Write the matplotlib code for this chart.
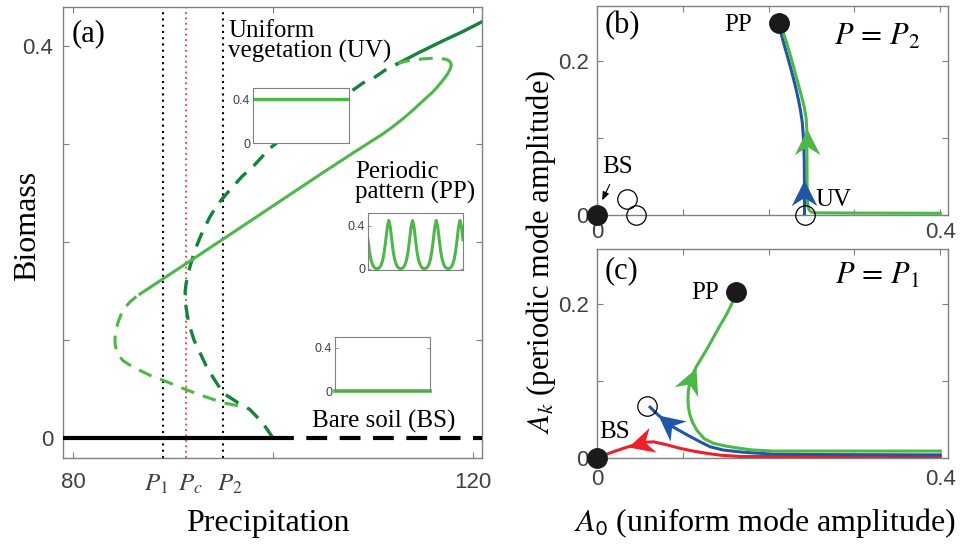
import matplotlib
matplotlib.use("Agg")
import matplotlib.pyplot as plt
import numpy as np
from matplotlib.markers import MarkerStyle
from matplotlib.path import Path
from matplotlib.transforms import Affine2D

plt.rcParams['font.family'] = ['Liberation Sans', 'DejaVu Sans']
plt.rcParams['mathtext.fontset'] = 'stix'

SERIF = ['Liberation Serif', 'DejaVu Serif']
LG = '#4db748'     # light green (periodic pattern)
DG = '#16823c'     # dark green (uniform vegetation)
BLUE = '#1f56a6'
RED = '#ec2128'
TICK_C = '#404040'
SPINE_C = '#808080'

# === Panel (a) data: bifurcation diagram ===
P1, Pc, P2 = 89.0, 91.3, 95.0

bs_stable_p = [79.0, 100.0]
bs_unstable_p = [100.0, 121.0]
bs_b = [0.0, 0.0]

# uniform vegetation: unstable branch (from bare-soil bifurcation, round the fold, up)
uv_unstable_p = [100.0, 99.0, 97.7, 96.5, 95.0, 94.0, 93.3, 92.7, 92.1, 91.7, 91.45,
                 91.3, 91.22, 91.22, 91.3, 91.45, 91.7, 92.2, 92.8, 93.7, 94.5, 95.5,
                 96.9, 98.0, 99.7, 102.0, 104.5, 107.7, 109.0, 110.0, 111.2, 112.5]
uv_unstable_b = [0.0, 0.015, 0.029, 0.036, 0.046, 0.062, 0.074, 0.087, 0.100, 0.113, 0.124,
                 0.134, 0.142, 0.150, 0.157, 0.165, 0.175, 0.192, 0.207, 0.226, 0.239, 0.251,
                 0.267, 0.277, 0.296, 0.314, 0.333, 0.353, 0.3625, 0.367, 0.3755, 0.3823]
uv_stable_p = [112.5, 114.5, 117.0, 119.0, 121.0]
uv_stable_b = [0.3823, 0.393, 0.4055, 0.415, 0.4255]

# periodic pattern branch
pp_low_p = [96.5, 95.0, 93.0, 91.4, 89.0, 87.7, 86.9, 86.3, 85.6, 85.0, 84.6, 84.35,
            84.22, 84.2, 84.3, 84.5, 84.8, 85.2, 85.7, 86.2, 86.7]
pp_low_b = [0.033, 0.036, 0.043, 0.049, 0.059, 0.064, 0.068, 0.071, 0.075, 0.079, 0.084, 0.089,
            0.095, 0.102, 0.110, 0.118, 0.126, 0.133, 0.139, 0.1433, 0.147]
pp_stable_p = [86.7, 89.0, 91.3, 95.0, 100.0, 105.0, 108.0, 110.0, 111.0, 112.0, 113.0,
               113.8, 114.6, 115.3, 115.9, 116.4, 116.85, 117.2, 117.5, 117.7, 117.8]
pp_stable_b = [0.147, 0.1625, 0.178, 0.203, 0.237, 0.271, 0.291, 0.304, 0.3105, 0.318, 0.326,
               0.333, 0.3405, 0.347, 0.3525, 0.358, 0.3635, 0.368, 0.3725, 0.3765, 0.3795]
pp_high_p = [117.8, 117.82, 117.75, 117.55, 117.2, 116.6, 116.0, 115.0, 114.0, 113.2, 112.5]
pp_high_b = [0.3795, 0.381, 0.3835, 0.3855, 0.3868, 0.3875, 0.3877, 0.387, 0.386, 0.3845, 0.3823]

# inset profiles
uv_profile = [0.4, 0.4]
bs_profile = [0.0, 0.0]
pp_period = [0.0, 0.004, 0.015, 0.04, 0.085, 0.16, 0.27, 0.39,
             0.45, 0.39, 0.27, 0.16, 0.085, 0.04, 0.015, 0.004]
pp_profile = np.tile(pp_period, 5)[10:75]

# === Panel (b) data: P = P2 ===
b_blue_x = [0.2418, 0.2417, 0.2415, 0.2410, 0.2402, 0.2392, 0.2372, 0.2348, 0.2316,
            0.2282, 0.2251, 0.2208, 0.2170, 0.2134, 0.2105]
b_blue_y = [0.0, 0.045, 0.070, 0.090, 0.106, 0.120, 0.135, 0.149, 0.165,
            0.180, 0.193, 0.210, 0.225, 0.240, 0.249]
b_green_x = [0.400, 0.300, 0.2560, 0.2504, 0.2475, 0.2458, 0.2450, 0.2447, 0.2445,
             0.2437, 0.2415, 0.2387, 0.2352, 0.2318, 0.2289, 0.2245, 0.2205, 0.2173, 0.2115]
b_green_y = [0.0022, 0.0025, 0.0028, 0.0035, 0.006, 0.011, 0.020, 0.060, 0.111,
             0.125, 0.140, 0.152, 0.167, 0.180, 0.193, 0.210, 0.225, 0.236, 0.249]
b_stable_x = [0.0, 0.2115]
b_stable_y = [0.0, 0.249]
b_unstable_x = [0.0354, 0.0451, 0.2418]
b_unstable_y = [0.0208, 0.0, 0.0]

# === Panel (c) data: P = P1 ===
c_green_x = [0.400, 0.2056, 0.180, 0.1668, 0.150, 0.1357, 0.125, 0.1163, 0.111, 0.108,
             0.1065, 0.106, 0.1065, 0.108, 0.1104, 0.1150, 0.1201, 0.128, 0.1357, 0.1435,
             0.1512, 0.157, 0.1621]
c_green_y = [0.009, 0.009, 0.0105, 0.0125, 0.0155, 0.019, 0.025, 0.036, 0.047, 0.057,
             0.066, 0.077, 0.0877, 0.097, 0.105, 0.117, 0.1265, 0.141, 0.1565, 0.172,
             0.1867, 0.200, 0.2146]
c_blue_x = [0.400, 0.250, 0.2056, 0.170, 0.1473, 0.132, 0.1201, 0.105, 0.089, 0.0715, 0.0618]
c_blue_y = [0.004, 0.0045, 0.005, 0.0075, 0.0103, 0.0145, 0.021, 0.030, 0.040, 0.0555, 0.066]
c_red_x = [0.400, 0.1668, 0.145, 0.128, 0.112, 0.0968, 0.080, 0.0657, 0.058, 0.0501,
           0.0365, 0.0307, 0.020, 0.0113, 0.0]
c_red_y = [0.0017, 0.002, 0.0035, 0.006, 0.009, 0.0125, 0.0175, 0.021, 0.0205, 0.019,
           0.0146, 0.0125, 0.0085, 0.005, 0.0]
c_stable_x = [0.0, 0.1621]
c_stable_y = [0.0, 0.2146]
c_unstable_x = [0.0583]
c_unstable_y = [0.068]

# === Figure ===
W, H = 972, 544
fig = plt.figure(figsize=(W / 100, H / 100), dpi=100)


def px_axes(x0, y0, x1, y1):
    return fig.add_axes([x0 / W, 1 - y1 / H, (x1 - x0) / W, (y1 - y0) / H])


def style(ax, size=16, xpad=6, ypad=6):
    for s in ax.spines.values():
        s.set_color(SPINE_C)
        s.set_linewidth(1.0)
    ax.tick_params(direction='in', top=True, right=True, length=4, width=0.8,
                   color=SPINE_C, labelsize=size, labelcolor=TICK_C)
    ax.tick_params(axis='x', pad=xpad)
    ax.tick_params(axis='y', pad=ypad)


# swept-back arrowhead, tip at the origin, pointing along +x
HEAD = Path([(0, 0), (-1, 0.5), (-0.68, 0), (-1, -0.5), (0, 0)],
            [Path.MOVETO, Path.LINETO, Path.LINETO, Path.LINETO, Path.CLOSEPOLY])


def arrow(ax, xs, ys, i, color):
    # arrowhead at point i+1, oriented from point i to point i+1 (screen space)
    p0 = ax.transData.transform((xs[i], ys[i]))
    p1 = ax.transData.transform((xs[i + 1], ys[i + 1]))
    ang = np.degrees(np.arctan2(p1[1] - p0[1], p1[0] - p0[0]))
    m = MarkerStyle(HEAD, transform=Affine2D().rotate_deg(ang))
    ax.plot([xs[i + 1]], [ys[i + 1]], marker=m, ms=37, color=color, mec='none',
            ls='none', zorder=4, clip_on=False)


# --- (a) ---
axA = px_axes(63, 7, 482, 458)
style(axA, xpad=10, ypad=7)
axA.set_xlim(79, 120.9)
axA.set_ylim(-0.0204, 0.44)
axA.set_xticks([80, 100, 120])
axA.set_xticklabels(['80', '', '120'])
axA.set_yticks([0, 0.1, 0.2, 0.3, 0.4])
axA.set_yticklabels(['0', '', '', '', '0.4'])

axA.axvline(P1, color='k', ls=(0, (1, 2)), lw=1.5)
axA.axvline(P2, color='k', ls=(0, (1, 2)), lw=1.5)
axA.axvline(Pc, color='#ff3333', ls=(0, (1, 2)), lw=1.3)

axA.plot(bs_stable_p, bs_b, color='k', lw=3, solid_capstyle='butt', zorder=3)
axA.plot(bs_unstable_p, bs_b, color='k', lw=3, dashes=(5, 3), zorder=3)
axA.plot(uv_unstable_p, uv_unstable_b, color=DG, lw=2.4, dashes=(4.5, 3))
axA.plot(uv_stable_p, uv_stable_b, color=DG, lw=2.4)
axA.plot(pp_low_p, pp_low_b, color=LG, lw=2.2, dashes=(4.5, 3))
axA.plot(pp_stable_p, pp_stable_b, color=LG, lw=2.2)
axA.plot(pp_high_p, pp_high_b, color=LG, lw=2.2, dashes=(4.5, 3))

for x, lab in [(88.3, r'$P_\mathit{1}$'), (91.7, r'$P_c$'), (95.7, r'$P_\mathit{2}$')]:
    axA.text(x, -0.035, lab, ha='center', va='top', size=18, color=TICK_C)

axA.text(79.9, 0.413, '(a)', family=SERIF, size=22, va='center', ha='left')
axA.text(95.5, 0.405, 'Uniform\nvegetation (UV)', family=SERIF, size=18,
         va='center', ha='left', linespacing=0.85)
axA.text(108.2, 0.261, 'Periodic\npattern (PP)', family=SERIF, size=18,
         va='center', ha='left', linespacing=0.85)
axA.text(103.9, 0.0173, 'Bare soil (BS)', family=SERIF, size=18, va='center', ha='left')


def inset(x0, y0, x1, y1, ylim):
    ax = px_axes(x0, y0, x1, y1)
    for s in ax.spines.values():
        s.set_color(SPINE_C)
        s.set_linewidth(0.8)
    ax.set_xticks([])
    ax.set_yticks([0, 0.4])
    ax.set_yticklabels(['0', '0.4'])
    ax.tick_params(axis='y', direction='in', right=True, length=2, width=0.6,
                   color=SPINE_C, labelsize=9, labelcolor=TICK_C, pad=2)
    ax.set_ylim(*ylim)
    return ax


insUV = inset(253, 88, 349, 143, (0, 0.5))
insUV.plot([0, 1], uv_profile, color=LG, lw=2.4)
insUV.set_xlim(0, 1)

insPP = inset(368, 213, 463, 270, (-0.012, 0.52))
insPP.plot(np.arange(len(pp_profile)), pp_profile, color=LG, lw=2.2)
insPP.set_xlim(0, len(pp_profile) - 1)

insBS = inset(335, 337, 430, 391, (0, 0.5))
insBS.plot([0, 1], bs_profile, color=LG, lw=2.6, clip_on=False)
insBS.set_xlim(0, 1)

# --- (b) and (c) ---
axB = px_axes(597, 6, 948, 215)
axC = px_axes(597, 249, 948, 458)
for ax, xp in [(axB, 5), (axC, 8)]:
    style(ax, xpad=xp, ypad=6)
    ax.set_xlim(0, 0.409)
    ax.set_ylim(0, 0.271)
    ax.set_xticks([0, 0.1, 0.2, 0.3, 0.4])
    ax.set_xticklabels(['0', '', '', '', '0.4'])
    ax.set_yticks([0, 0.1, 0.2])
    ax.set_yticklabels(['0', '', '0.2'])

axB.plot(b_blue_x, b_blue_y, color=BLUE, lw=2.2, zorder=3)
axB.plot(b_green_x, b_green_y, color=LG, lw=2.2, zorder=3)
arrow(axB, b_blue_x, b_blue_y, 0, BLUE)
arrow(axB, b_green_x, b_green_y, 7, LG)
axB.plot(b_unstable_x, b_unstable_y, 'o', ms=14, mfc='none', mec='k', mew=0.9,
         clip_on=False, zorder=5)
axB.plot(b_stable_x, b_stable_y, 'o', ms=14, color='#1a1a1a', clip_on=False, zorder=6)
axB.text(0.0093, 0.245, '(b)', family=SERIF, size=22, va='center', ha='left')
axB.text(0.1644, 0.2468, 'PP', family=SERIF, size=18, va='center', ha='center')
axB.text(0.275, 0.0195, 'UV', family=SERIF, size=18, va='center', ha='center')
axB.text(0.3265, 0.231, r'$P\,=\,P_\mathit{2}$', size=22, va='center', ha='center')
axB.annotate('BS', xy=(0.006, 0.019), xytext=(0.0245, 0.0623), family=SERIF, size=18,
             ha='center', va='center',
             arrowprops=dict(arrowstyle='-|>,head_length=0.5,head_width=0.2', color='k',
                             lw=0.8, mutation_scale=10, shrinkA=3, shrinkB=0))

axC.plot(c_red_x, c_red_y, color=RED, lw=2.2, zorder=3)
axC.plot(c_blue_x, c_blue_y, color=BLUE, lw=2.2, zorder=3)
axC.plot(c_green_x, c_green_y, color=LG, lw=2.2, zorder=3)
arrow(axC, c_green_x, c_green_y, 14, LG)
arrow(axC, c_blue_x, c_blue_y, 8, BLUE)
arrow(axC, c_red_x, c_red_y, 9, RED)
axC.plot(c_unstable_x, c_unstable_y, 'o', ms=14, mfc='none', mec='k', mew=0.9,
         clip_on=False, zorder=5)
axC.plot(c_stable_x, c_stable_y, 'o', ms=14, color='#1a1a1a', clip_on=False, zorder=6)
axC.text(0.0093, 0.2426, '(c)', family=SERIF, size=22, va='center', ha='left')
axC.text(0.126, 0.2142, 'PP', family=SERIF, size=18, va='center', ha='center')
axC.text(0.021, 0.0335, 'BS', family=SERIF, size=18, va='center', ha='center')
axC.text(0.3265, 0.236, r'$P\,=\,P_\mathit{1}$', size=22, va='center', ha='center')

# --- axis labels ---
fig.text(28 / W, 1 - 226 / H, 'Biomass', rotation=90, family=SERIF, size=23,
         ha='center', va='center')
fig.text(268 / W, 1 - 523 / H, 'Precipitation', family=SERIF, size=23,
         ha='center', va='center')
fig.text(541 / W, 1 - 252 / H, r'$A_k$ (periodic mode amplitude)', rotation=90,
         family=SERIF, size=22, ha='center', va='center')
fig.text(765 / W, 1 - 523 / H, r'$A_\mathsf{0}$ (uniform mode amplitude)',
         family=SERIF, size=23, ha='center', va='center')

fig.savefig('out.png', dpi=100)
